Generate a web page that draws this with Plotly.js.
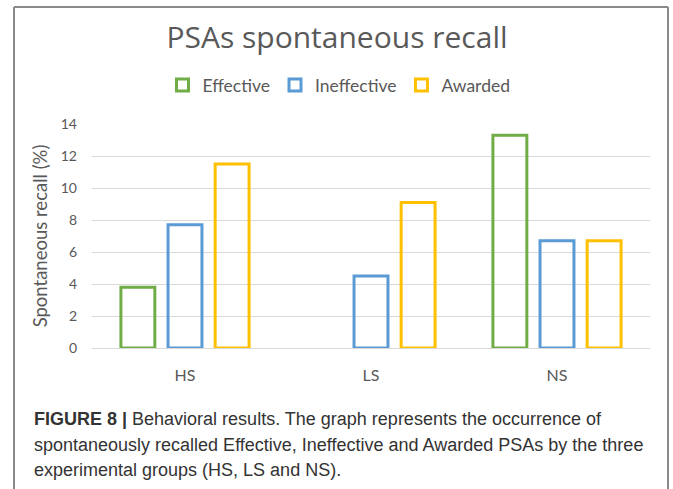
<!DOCTYPE html>
<html>
<head>
<meta charset="utf-8">
<script src="https://cdn.plot.ly/plotly-3.0.1.min.js"></script>
<style>
html,body{margin:0;padding:0;background:#fff;}
#chart{width:673px;height:489px;}
</style>
</head>
<body>
<div id="chart"></div>
<script>
const groups = ["HS", "LS", "NS"];
const effective = [3.8, null, 13.3];
const ineffective = [7.7, 4.5, 6.7];
const awarded = [11.5, 9.1, 6.7];
const seriesNames = ["Effective", "Ineffective", "Awarded"];
const seriesColors = ["#70AD47", "#5B9BD5", "#FFC000"];
const yTicks = [0, 2, 4, 6, 8, 10, 12, 14];
const titleText = "PSAs spontaneous recall";
const yTitle = "Spontaneous recall (%)";
const captionLines = [
  "<b>FIGURE 8 |</b> Behavioral results. The graph represents the occurrence of",
  "spontaneously recalled Effective, Ineffective and Awarded PSAs by the three",
  "experimental groups (HS, LS and NS)."
];

const W = 673, H = 489;
const L = 92, R = 23, T = 124, B = 141;
const pw = W - L - R, ph = H - T - B;
const px = x => (x - L) / pw;
const py = y => (H - B - y) / ph;

const seriesData = [effective, ineffective, awarded];
const traces = seriesData.map((vals, i) => ({
  type: "bar",
  name: seriesNames[i],
  x: groups,
  y: vals,
  marker: {color: "rgba(255,255,255,0)", line: {color: seriesColors[i], width: 3}},
  hoverinfo: "x+y+name"
}));

const annotations = captionLines.map((t, i) => ({
  xref: "paper", yref: "paper",
  x: px(32), y: py(419 + i * 25.5),
  xanchor: "left", yanchor: "middle",
  text: t, showarrow: false,
  font: {family: "Liberation Sans, Arial, sans-serif", size: 18, color: "#333333"}
}));

const frameColor = "#8a8a8a";
const shapes = [
  {type: "line", xref: "paper", yref: "paper", x0: px(14), x1: px(14), y0: py(7), y1: py(495), line: {color: frameColor, width: 2}},
  {type: "line", xref: "paper", yref: "paper", x0: px(14), x1: px(668), y0: py(7), y1: py(7), line: {color: frameColor, width: 2}},
  {type: "line", xref: "paper", yref: "paper", x0: px(668), x1: px(668), y0: py(7), y1: py(495), line: {color: frameColor, width: 2}}
];

const layout = {
  width: W, height: H,
  margin: {l: L, r: R, t: T, b: B, pad: 0},
  paper_bgcolor: "#ffffff",
  plot_bgcolor: "#ffffff",
  title: {
    text: titleText,
    x: 337 / W, xref: "container", xanchor: "center",
    y: 1 - 37 / H, yref: "container", yanchor: "middle",
    font: {family: "Open Sans, sans-serif", size: 30, color: "#595959"}
  },
  barmode: "group",
  bargap: 0.24,
  bargroupgap: 0.28,
  showlegend: true,
  legend: {
    orientation: "h",
    x: px(339), xanchor: "center",
    y: py(85), yanchor: "middle",
    font: {family: "Lato, Open Sans, sans-serif", size: 17.5, color: "#595959"},
    itemwidth: 30,
    traceorder: "normal"
  },
  xaxis: {
    type: "category",
    showgrid: false, zeroline: false, showline: false,
    ticks: "",
    tickfont: {family: "Lato, Open Sans, sans-serif", size: 16, color: "#595959"},
    ticklabelstandoff: 16
  },
  yaxis: {
    range: [0, 14],
    tickvals: yTicks,
    ticktext: yTicks.map(String),
    showgrid: true, gridcolor: "#d9d9d9", gridwidth: 1,
    zeroline: true, zerolinecolor: "#d9d9d9", zerolinewidth: 1,
    showline: false,
    ticks: "",
    ticklabelstandoff: 14,
    tickfont: {family: "Lato, Open Sans, sans-serif", size: 14, color: "#595959"},
    title: {
      text: yTitle,
      standoff: 8,
      font: {family: "Lato, Open Sans, sans-serif", size: 18.5, color: "#595959"}
    }
  },
  annotations: annotations,
  shapes: shapes
};

Plotly.newPlot("chart", traces, layout, {displayModeBar: false, staticPlot: true});
</script>
</body>
</html>
